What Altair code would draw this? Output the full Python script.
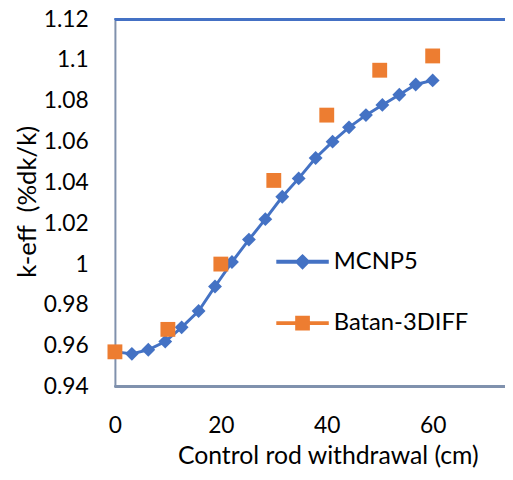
import altair as alt
import pandas as pd

# MCNP5 series
mcnp_x = [0, 3.2, 6.3, 9.5, 12.6, 15.8, 18.9, 22.1, 25.3, 28.4,
          31.6, 34.7, 37.9, 41.1, 44.2, 47.4, 50.5, 53.7, 56.8, 60]
mcnp_y = [0.957, 0.956, 0.958, 0.962, 0.969, 0.977, 0.989, 1.001, 1.012, 1.022,
          1.033, 1.042, 1.052, 1.060, 1.067, 1.073, 1.078, 1.083, 1.088, 1.090]

# Batan-3DIFF series
batan_x = [0, 10, 20, 30, 40, 50, 60]
batan_y = [0.957, 0.968, 1.000, 1.041, 1.073, 1.095, 1.102]

series_names = ["MCNP5", "Batan-3DIFF"]
series_colors = ["#4472C4", "#ED7D31"]

x_ticks = [0, 20, 40, 60]
y_ticks = [0.94, 0.96, 0.98, 1, 1.02, 1.04, 1.06, 1.08, 1.1, 1.12]

mcnp = pd.DataFrame({"x": mcnp_x, "y": mcnp_y, "series": series_names[0]})
batan = pd.DataFrame({"x": batan_x, "y": batan_y, "series": series_names[1]})
both = pd.concat([mcnp, batan], ignore_index=True)

FONT = "Lato"
AXIS_GREY = "#8091AD"

xscale = alt.Scale(domain=[0, 75.9], nice=False, zero=False)
yscale = alt.Scale(domain=[0.94, 1.12], nice=False, zero=False)

xaxis = alt.Axis(values=x_ticks, title="Control rod withdrawal (cm)", grid=False,
                 ticks=False, tickSize=0, labelPadding=28, labelFontSize=23,
                 labelFlush=False,
                 labelFont=FONT, labelColor="#000", titleFont=FONT, titleFontSize=25,
                 titleFontWeight="normal", titleColor="#000", titleX=215, titleY=78,
                 titleBaseline="alphabetic", domainColor=AXIS_GREY, domainWidth=2)
yaxis = alt.Axis(values=y_ticks, format="~g", title="k-eff\u00a0 (%dk/k)", grid=False,
                 ticks=False, tickSize=0, labelPadding=27, labelFontSize=23,
                 labelFlush=False,
                 labelFont=FONT, labelColor="#000", titleFont=FONT, titleFontSize=26,
                 titleFontWeight="normal", titleColor="#000", titleX=-80, titleY=184,
                 titleAngle=270, titleAlign="center", titleBaseline="alphabetic",
                 domainColor=AXIS_GREY, domainWidth=2)

line_path = "M-1,-0.075L1,-0.075L1,0.075L-1,0.075Z"
diamond_path = "M-0.3,0L0,-0.3L0.3,0L0,0.3Z"
square_path = "M-0.28,-0.28L0.28,-0.28L0.28,0.28L-0.28,0.28Z"
legend_shapes = [line_path + " " + diamond_path, line_path + " " + square_path]

legend = alt.Legend(title=None, orient="none", legendX=163, legendY=218.5,
                    padding=0, rowPadding=23, symbolSize=2809, labelOffset=5,
                    symbolOpacity=1, symbolStrokeWidth=0,
                    labelFont=FONT, labelFontSize=24, labelColor="#000")

line = alt.Chart(mcnp).mark_line(color=series_colors[0], strokeWidth=3).encode(
    x=alt.X("x:Q", scale=xscale, axis=xaxis),
    y=alt.Y("y:Q", scale=yscale, axis=yaxis),
)

diamonds = alt.Chart(mcnp).mark_point(shape="diamond", filled=True, size=196, opacity=1,
                                      color=series_colors[0]).encode(
    x=alt.X("x:Q", scale=xscale),
    y=alt.Y("y:Q", scale=yscale),
)

squares = alt.Chart(batan).mark_point(shape="square", filled=True, size=225, opacity=1,
                                      color=series_colors[1]).encode(
    x=alt.X("x:Q", scale=xscale),
    y=alt.Y("y:Q", scale=yscale),
)

legend_layer = alt.Chart(both).mark_point(filled=True, opacity=0).encode(
    x=alt.X("x:Q", scale=xscale),
    y=alt.Y("y:Q", scale=yscale),
    color=alt.Color("series:N", scale=alt.Scale(domain=series_names, range=series_colors),
                    legend=legend),
    shape=alt.Shape("series:N", scale=alt.Scale(domain=series_names, range=legend_shapes),
                    legend=legend),
)

# frame line along the top of the value axis
top_rule = alt.Chart(mcnp).mark_rule(color="#4472C4", strokeWidth=2, clip=False).encode(
    y=alt.datum(y_ticks[-1], scale=yscale),
)
bottom_rule = alt.Chart(mcnp).mark_rule(color=AXIS_GREY, strokeWidth=2, clip=False).encode(
    y=alt.datum(y_ticks[0], scale=yscale),
)

# the plot frame runs past the right edge of the picture, as in the cropped original
chart = alt.layer(line, diamonds, squares, legend_layer, top_rule, bottom_rule).properties(
    width=406, height=371,
    autosize="none",
    padding={"left": 108, "top": 9, "right": -12, "bottom": 82},
).configure_view(stroke=AXIS_GREY, strokeWidth=2).configure(background="white")

chart.save("out.html", embed_options={"renderer": "svg", "actions": False})
